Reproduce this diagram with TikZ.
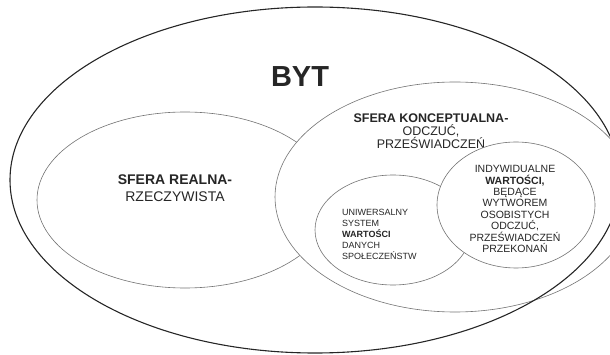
\documentclass[tikz,border=0pt]{standalone}
\usepackage{fontspec}
\setmainfont{Liberation Sans}
\usetikzlibrary{shapes.geometric}

\tikzset{
  byt/.style={ellipse, draw=black!85, line width=1.1pt, inner sep=0pt},
  sfera/.style={ellipse, draw=black!55, line width=0.6pt, fill=white, inner sep=0pt},
  opis/.style={inner sep=0pt, text=black!85}
}

\begin{document}
\begin{tikzpicture}[x=1pt, y=-1pt]
\useasboundingbox (0,0) rectangle (610,355);
\clip (0,0) rectangle (610,355);

%ELIPSA NR. 1 (sfera realna)
\node [sfera, minimum width=296pt, minimum height=176pt] (realna) at (185,200) {};
\node [opis, align=center, font=\fontsize{14}{17}\selectfont] (realnaTxt) at (175,188)
  {\textbf{SFERA REALNA-}\\RZECZYWISTA};

%ELIPSA NR. 2 (sfera konceptualna)
\node [sfera, minimum width=360pt, minimum height=230pt] (konc) at (455,197) {};
\node [opis, align=center, font=\fontsize{12.5}{13}\selectfont] (koncTxt) at (431,131)
  {\textbf{SFERA KONCEPTUALNA-}\\ODCZUĆ,\\PRZEŚWIADCZEŃ};

%ELIPSA NR. 3 (system uniwersalny)
\node [sfera, minimum width=156pt, minimum height=110pt] (uniw) at (393,230) {};
\node [opis, anchor=west, align=left, font=\fontsize{9}{11}\selectfont] (uniwTxt) at (342,234)
  {UNIWERSALNY\\SYSTEM\\\textbf{WARTOŚCI}\\DANYCH\\SPOŁECZEŃSTW};

%ELIPSA NR. 4 (wartosci indywidualne)
\node [sfera, minimum width=158pt, minimum height=126pt] (indyw) at (516,205) {};
\node [opis, align=center, font=\fontsize{10.5}{11.4}\selectfont] (indywTxt) at (515,209)
  {INDYWIDUALNE\\\textbf{WARTOŚCI,}\\BĘDĄCE\\WYTWOREM\\OSOBISTYCH\\ODCZUĆ,\\PRZEŚWIADCZEŃ\\PRZEKONAŃ};

%ELIPSA NR. 0 (BYT) - na wierzchu
\node [byt, minimum width=610pt, minimum height=346pt] (byt) at (315,180) {};
\node [opis, font=\fontsize{29}{30}\selectfont\bfseries] (bytTxt) at (300,77) {BYT};

\end{tikzpicture}
\end{document}
